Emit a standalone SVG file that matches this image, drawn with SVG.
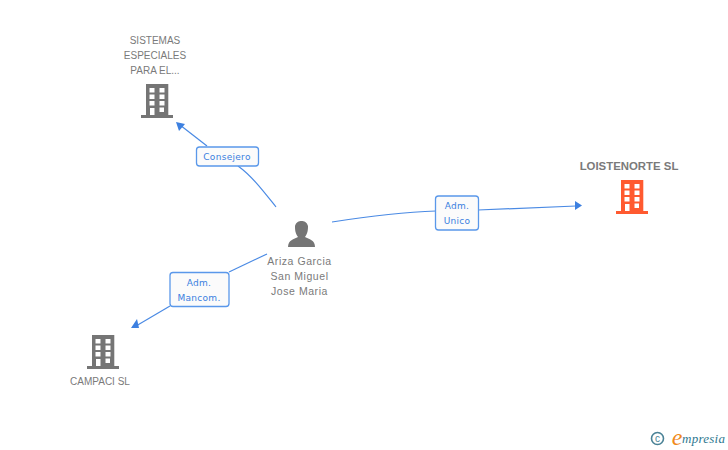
<svg xmlns="http://www.w3.org/2000/svg" width="728" height="450" viewBox="0 0 728 450">
<style>
.l{font-family:"Liberation Sans",Arial,sans-serif;font-size:10px;fill:#7a7a7a;text-anchor:middle}
.b{font-weight:bold;font-size:11.400px}
.p{font-size:10.500px;letter-spacing:.55px}
.t{font-family:"DejaVu Sans",sans-serif;font-size:9px;fill:#3a80e0;text-anchor:middle;letter-spacing:.3px}
.e{fill:none;stroke:#4a8ae4;stroke-width:1.2}
.h{fill:#3d80e0}
.box{fill:#fbfbfb;stroke:#5a98ea;stroke-width:1.3}
</style>
<defs>
<g id="bld">
<path fill-rule="evenodd" d="M5 0H27.300V31H32V34H0V31H5ZM8.500 4V8.500H13.500V4ZM18.500 4V8.500H23.500V4ZM8.500 10.500V15H13.500V10.500ZM18.500 10.500V15H23.500V10.500ZM8.500 17V21.500H13.500V17ZM18.500 17V21.500H23.500V17ZM9 24V31H13.500V24ZM18.500 23.500V28H23V23.500Z"/>
</g>
</defs>
<g id="connectors">
<path class="e" d="M276 207C264 192 252 176 238 166"/>
<path class="e" d="M207 146L180 125"/>
<path class="h" d="M176 122L185 124L179 131Z"/>
<path class="e" d="M332 222C370 216 405 212 436 211"/>
<path class="e" d="M478 210L576 206"/>
<path class="h" d="M582 205.500L575 201V210Z"/>
<path class="e" d="M267 254L229 272"/>
<path class="e" d="M170 306L136 326"/>
<path class="h" d="M131 328L137 319L139 328Z"/>
</g>
<g id="edge-consejero">
<rect class="box" x="196.500" y="147" width="62" height="19" rx="3"/>
<text class="t" x="227" y="160">Consejero</text>
</g>
<g id="edge-unico">
<rect class="box" x="435.500" y="196" width="43" height="34" rx="3"/>
<text class="t" x="457" y="209">Adm.</text>
<text class="t" x="457" y="224">Unico</text>
</g>
<g id="edge-mancom">
<rect class="box" x="170" y="272.500" width="59" height="34" rx="3"/>
<text class="t" x="199" y="286">Adm.</text>
<text class="t" x="199" y="301">Mancom.</text>
</g>
<g id="node-sistemas">
<text class="l" x="155" y="44">SISTEMAS</text>
<text class="l" x="155" y="59">ESPECIALES</text>
<text class="l" x="155" y="74">PARA EL...</text>
<use href="#bld" x="141" y="84" fill="#757575"/>
</g>
<g id="node-loistenorte">
<text class="l b" x="629" y="170">LOISTENORTE SL</text>
<use href="#bld" x="616" y="180" fill="#ff5a30"/>
</g>
<g id="node-campaci">
<use href="#bld" x="87" y="335" fill="#757575"/>
<text class="l" x="100" y="385">CAMPACI SL</text>
</g>
<g id="node-person">
<path fill="#757575" d="M288 247C288 240 294 239 298 237C295 233 295 229 295 226C296 222 299 221 301.500 221C304 221 307 222 308 226C308 229 308 233 305 237C309 239 315 240 315 247Z"/>
<text class="l p" x="299.500" y="265">Ariza Garcia</text>
<text class="l p" x="299.500" y="280">San Miguel</text>
<text class="l p" x="299.500" y="295">Jose Maria</text>
</g>
<g id="logo">
<circle cx="657.500" cy="438.500" r="6" fill="none" stroke="#4a8296" stroke-width="1.600"/>
<text x="657.500" y="442" font-family="Liberation Sans,sans-serif" font-size="10" fill="#4a8296" text-anchor="middle">c</text>
<text x="677" y="445" font-family="Liberation Serif,serif" font-style="italic" font-size="24" fill="#f08a1c" text-anchor="middle">e</text>
<text x="682" y="443" font-family="Liberation Serif,serif" font-style="italic" font-size="13" fill="#2f7890" textLength="43">mpresia</text>
</g>
</svg>
